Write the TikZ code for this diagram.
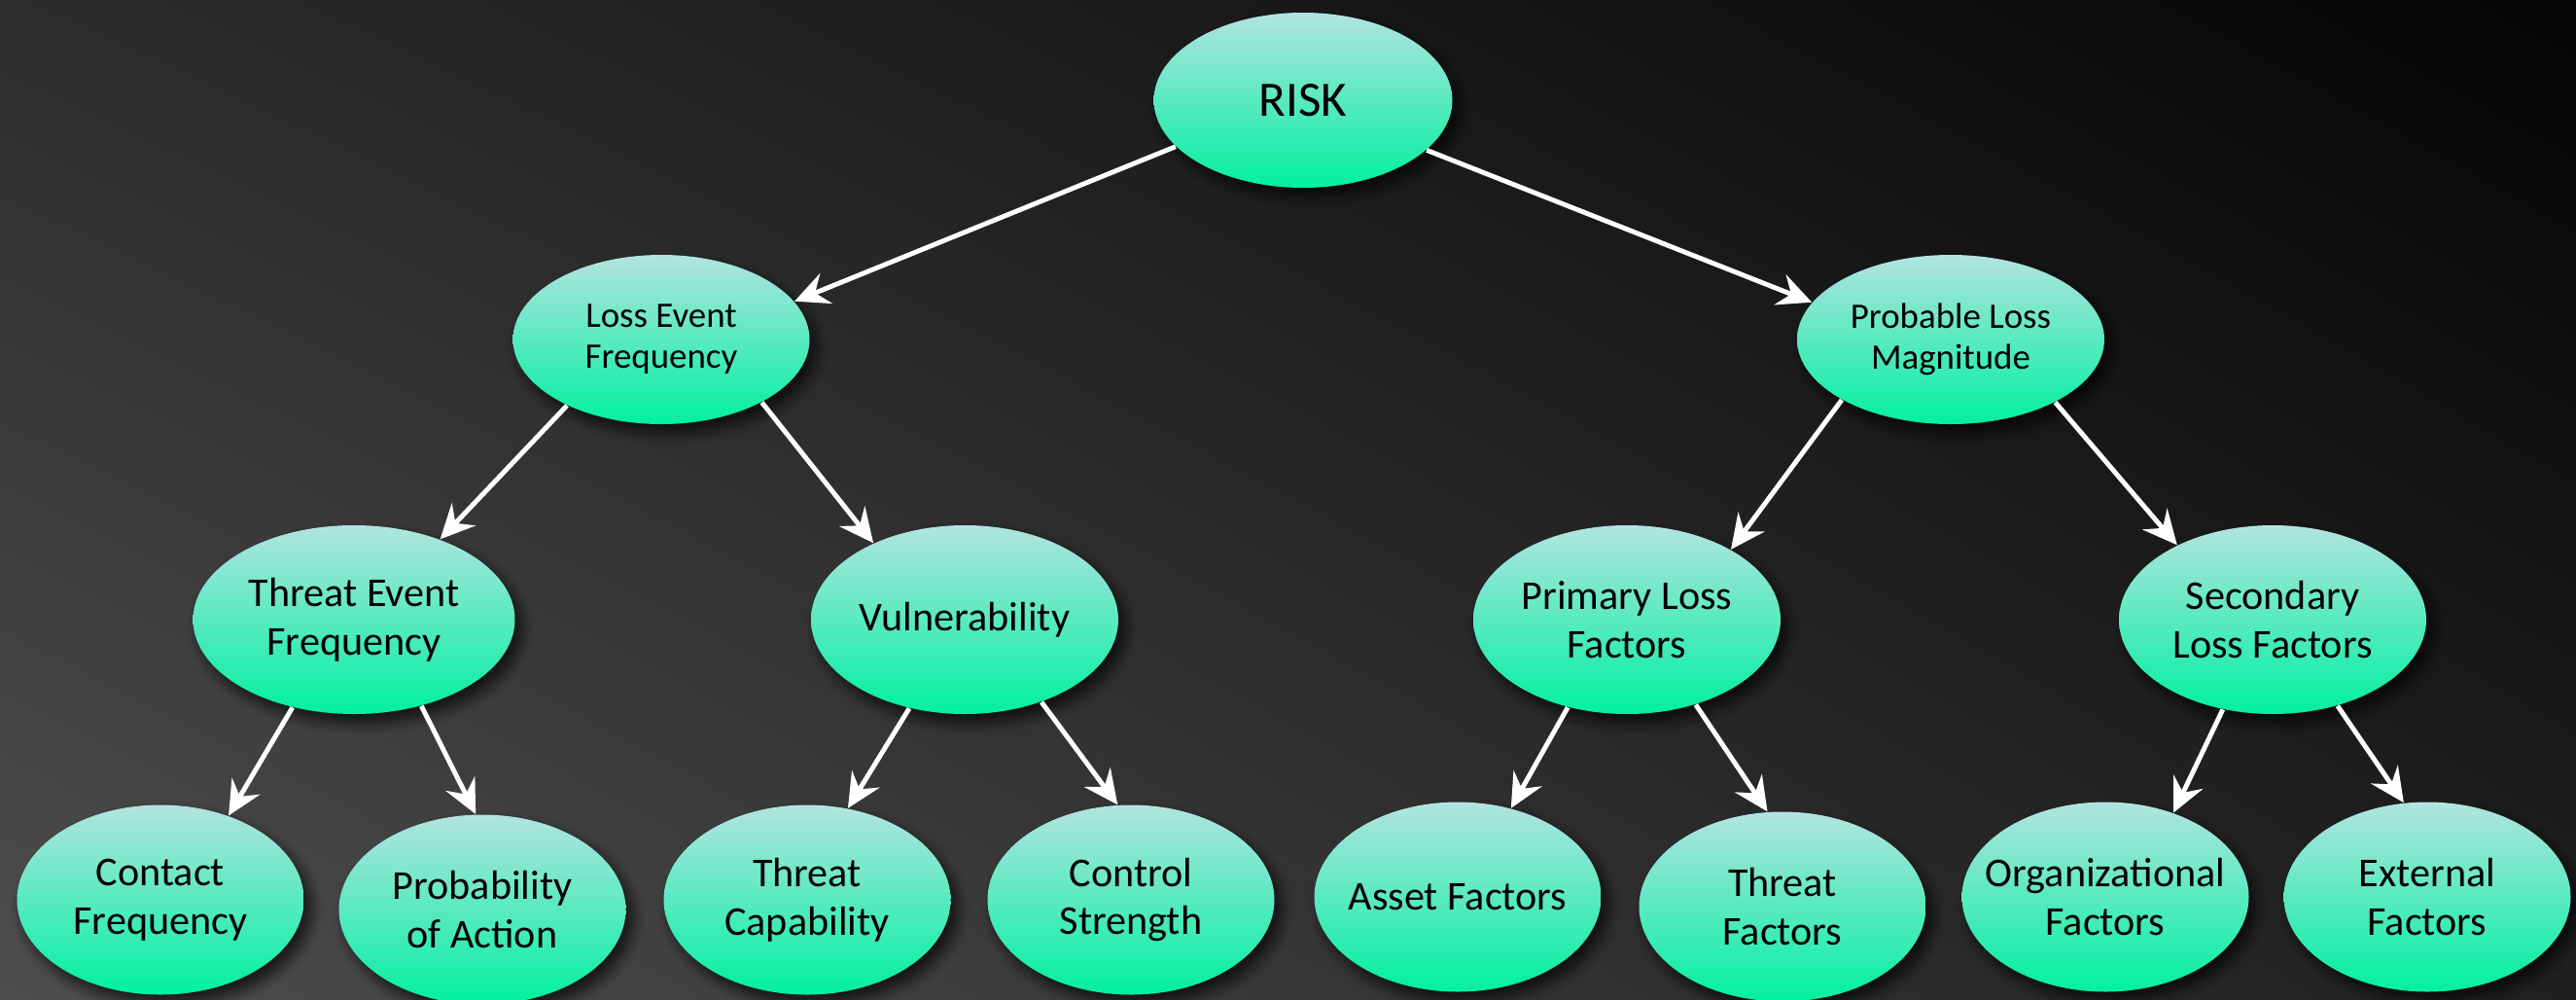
\documentclass[tikz,border=0pt]{standalone}
\usepackage{fontspec}
\setmainfont{Carlito}
\usetikzlibrary{shapes.geometric,arrows.meta,shadows.blur,shadings}
\definecolor{blobtop}{RGB}{178,228,222}
\definecolor{blobbot}{RGB}{0,240,160}
\definecolor{bgul}{RGB}{44,44,44}
\definecolor{bgll}{RGB}{78,78,78}
\definecolor{bgur}{RGB}{4,4,4}
\definecolor{bglr}{RGB}{32,32,32}
\begin{document}
\begin{tikzpicture}[
  blob/.style={ellipse, inner xsep=-1cm, inner ysep=-0.5cm, align=center, text=black,
    top color=blobtop, bottom color=blobbot,
    blur shadow={shadow xshift=0.07cm, shadow yshift=-0.09cm, shadow blur radius=0.12cm,
      shadow blur steps=8, shadow opacity=70}},
  top/.style={blob, minimum width=3.07cm, minimum height=1.80cm, font=\fontsize{14.5}{17}\selectfont},
  mid/.style={blob, minimum width=3.05cm, minimum height=1.74cm, font=\fontsize{10.5}{11.9}\selectfont},
  low/.style={blob, minimum width=3.16cm, minimum height=1.94cm, font=\fontsize{12}{14.2}\selectfont},
  leaf/.style={blob, minimum width=2.95cm, minimum height=1.95cm, font=\fontsize{12}{14.2}\selectfont},
  link/.style={white, line width=1.4pt, -{Stealth[length=10pt, width=9.5pt, inset=3.5pt]}}]
 % background:
\clip (0,0) rectangle (26.49,-10.27);
\shade[upper left=bgul, lower left=bgll, upper right=bgur, lower right=bglr]
  (0,0) rectangle (26.49,-10.27);
 % root:
\node[top] (risk) at (13.40,-1.03) {RISK};
 % second row:
\node[mid] (lef) at (6.80,-3.49) {Loss Event\\Frequency};
\node[mid, minimum width=3.16cm] (plm) at (20.06,-3.49) {Probable Loss\\Magnitude};
 % third row:
\node[low, minimum width=3.31cm] (tef) at (3.64,-6.37) {Threat Event\\Frequency};
\node[low] (vul) at (9.92,-6.37) {Vulnerability};
\node[low] (plf) at (16.73,-6.37) {Primary Loss\\Factors};
\node[low] (slf) at (23.37,-6.37) {Secondary\\Loss Factors};
 % leaves:
\node[leaf] (cf) at (1.65,-9.25) {Contact\\Frequency};
\node[leaf] (poa) at (4.96,-9.35) {Probability\\of Action};
\node[leaf] (tc) at (8.30,-9.25) {Threat\\Capability};
\node[leaf] (cs) at (11.63,-9.25) {Control\\Strength};
\node[leaf] (af) at (14.99,-9.22) {Asset Factors};
\node[leaf] (tf) at (18.33,-9.32) {Threat\\Factors};
\node[leaf] (of) at (21.65,-9.22) {Organizational\\Factors};
\node[leaf] (ef) at (24.96,-9.22) {External\\Factors};
 % arrows:
\draw[link] (risk.200.6) -- (lef.16);
\draw[link] (risk.338.7) -- (plm.165.4);
\draw[link] (lef.215) -- (tef.43.7);
\draw[link] (lef.328.8) -- (vul.140);
\draw[link] (plm.209.4) -- (plf.34);
\draw[link] (plm.329.3) -- (slf.142.7);
\draw[link] (tef.235) -- (cf.51.7);
\draw[link] (tef.308.6) -- (poa.94.4);
\draw[link] (vul.238.9) -- (tc.66.7);
\draw[link] (vul.313.2) -- (cs.98.4);
\draw[link] (plf.236.7) -- (af.59.7);
\draw[link] (plf.309.5) -- (tf.99.4);
\draw[link] (slf.241.9) -- (of.51);
\draw[link] (slf.307) -- (ef.104.5);
\end{tikzpicture}
\end{document}
